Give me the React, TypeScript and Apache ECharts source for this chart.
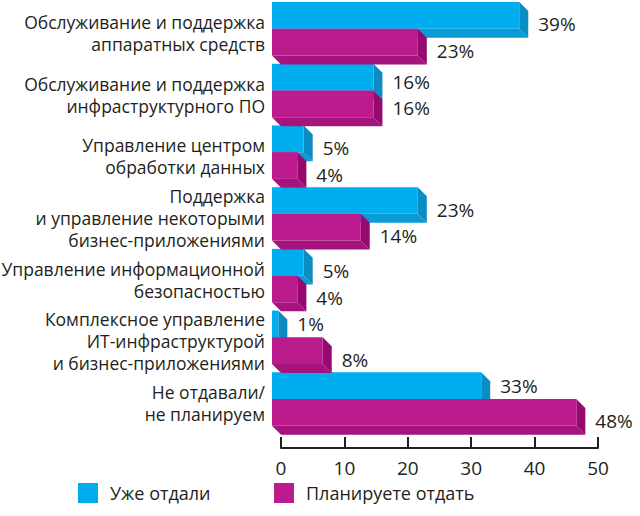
import React, { useEffect, useRef } from "react";
import * as echarts from "echarts";

const categories = [
  "Обслуживание и поддержка\nаппаратных средств",
  "Обслуживание и поддержка\nинфраструктурного ПО",
  "Управление центром\nобработки данных",
  "Поддержка\nи управление некоторыми\nбизнес-приложениями",
  "Управление информационной\nбезопасностью",
  "Комплексное управление\nИТ-инфраструктурой\nи бизнес-приложениями",
  "Не отдавали/\nне планируем",
];
const alreadyOutsourced = [39, 16, 5, 23, 5, 1, 33];
const planningToOutsource = [23, 16, 4, 14, 4, 8, 48];
const seriesNames = ["Уже отдали", "Планируете отдать"];
const xMin = 0;
const xMax = 50;
const xStep = 10;

const FONT = "'Open Sans', 'Noto Sans', sans-serif";
const TEXT = "#231f20";
const DEPTH = 9;
const BAR_FRAC = 0.433;

const palettes = [
  { front: "#00aeef", side: "#0b8cc2", bottom: "#0a9bd6" },
  { front: "#bc1b8d", side: "#960a70", bottom: "#a4147c" },
];

function barGeom(api: any, slot: number, v: number, cat: number) {
  const zero = api.coord([0, cat]);
  const end = api.coord([v, cat]);
  const band = api.size([0, 1])[1];
  const h = band * BAR_FRAC;
  const top = zero[1] - band / 2 + slot * h;
  return { x0: zero[0] - DEPTH, x1: end[0] - DEPTH, xEnd: end[0], y0: top, y1: top + h };
}

function makeRender(slot: number) {
  const pal = palettes[slot];
  const d = DEPTH;
  return (params: any, api: any) => {
    const v = api.value(0);
    const cat = api.value(1);
    const { x0, x1, y0, y1 } = barGeom(api, slot, v, cat);
    return {
      type: "group",
      children: [
        {
          type: "polygon",
          shape: { points: [[x0, y1], [x1, y1], [x1 + d, y1 + d], [x0 + d, y1 + d]] },
          style: { fill: pal.bottom },
        },
        {
          type: "polygon",
          shape: { points: [[x1, y0], [x1 + d, y0 + d], [x1 + d, y1 + d], [x1, y1]] },
          style: { fill: pal.side },
        },
        {
          type: "rect",
          shape: { x: x0, y: y0, width: x1 - x0, height: y1 - y0 },
          style: { fill: pal.front },
        },
      ],
    };
  };
}

function makeLabelRender(slot: number) {
  return (params: any, api: any) => {
    const v = api.value(0);
    const cat = api.value(1);
    const other = api.value(2);
    const { xEnd, y0, y1 } = barGeom(api, slot, v, cat);
    let dy = DEPTH;
    if (slot === 0 && v < other) dy = 0;
    if (v === other) dy = 4.5;
    return {
      type: "text",
      x: xEnd + 10,
      y: (y0 + y1) / 2 + dy,
      style: {
        text: v + "%",
        fill: TEXT,
        font: `19px ${FONT}`,
        align: "left",
        verticalAlign: "middle",
      },
    };
  };
}

export default function App() {
  const ref = useRef<HTMLDivElement>(null);
  useEffect(() => {
    if (!ref.current) return;
    const chart = echarts.init(ref.current, null, { renderer: "svg" });
    const legendBase = {
      orient: "horizontal",
      top: 478,
      icon: "rect",
      itemWidth: 20,
      itemHeight: 20,
      textStyle: { fontFamily: FONT, fontSize: 18, color: TEXT, padding: [0, 0, 0, 7] },
    };
    chart.setOption({
      animation: false,
      backgroundColor: "#ffffff",
      grid: { left: 281, right: 42, top: 2, height: 432, containLabel: false, outerBoundsMode: "none" },
      legend: [
        { ...legendBase, left: 73, data: [seriesNames[0]] },
        { ...legendBase, left: 269, data: [seriesNames[1]] },
      ],
      xAxis: {
        type: "value",
        min: xMin,
        max: xMax,
        interval: xStep,
        offset: 14,
        axisLine: { show: true, lineStyle: { color: TEXT, width: 2 } },
        axisTick: { show: true, inside: true, length: 11, lineStyle: { color: TEXT, width: 2 } },
        splitLine: { show: false },
        axisLabel: { fontFamily: FONT, fontSize: 19, color: TEXT, margin: 10 },
      },
      yAxis: {
        type: "category",
        data: categories,
        inverse: true,
        axisLine: { show: false },
        axisTick: { show: false },
        axisLabel: {
          fontFamily: FONT,
          fontSize: 17.5,
          lineHeight: 22,
          color: TEXT,
          margin: 16,
          align: "right",
        },
      },
      series: [
        {
          name: seriesNames[0],
          type: "custom",
          z: 2,
          itemStyle: { color: palettes[0].front },
          encode: { x: 0, y: 1 },
          renderItem: makeRender(0),
          data: alreadyOutsourced.map((v, i) => [v, i]),
        },
        {
          name: seriesNames[1],
          type: "custom",
          z: 3,
          itemStyle: { color: palettes[1].front },
          encode: { x: 0, y: 1 },
          renderItem: makeRender(1),
          data: planningToOutsource.map((v, i) => [v, i]),
        },
        {
          name: "labels-0",
          type: "custom",
          z: 10,
          silent: true,
          encode: { x: 0, y: 1 },
          renderItem: makeLabelRender(0),
          data: alreadyOutsourced.map((v, i) => [v, i, planningToOutsource[i]]),
        },
        {
          name: "labels-1",
          type: "custom",
          z: 10,
          silent: true,
          encode: { x: 0, y: 1 },
          renderItem: makeLabelRender(1),
          data: planningToOutsource.map((v, i) => [v, i, alreadyOutsourced[i]]),
        },
      ],
    });
    return () => chart.dispose();
  }, []);
  return <div ref={ref} style={{ width: 640, height: 516, position: "absolute", left: 0, top: 0 }} />;
}
